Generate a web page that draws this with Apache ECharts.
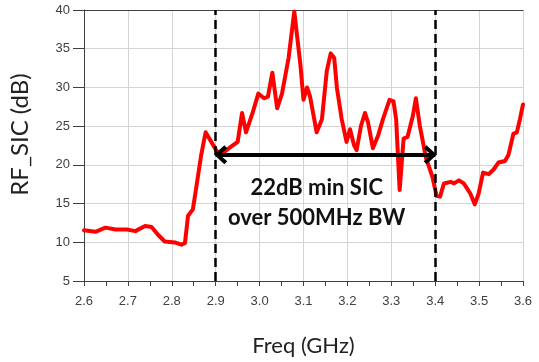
<!DOCTYPE html>
<html>
<head>
<meta charset="utf-8">
<script src="https://cdn.jsdelivr.net/npm/echarts@6/dist/echarts.min.js"></script>
<style>html,body{margin:0;padding:0;background:#fff;}#c{width:539px;height:362px;}</style>
</head>
<body>
<div id="c"></div>
<script>
const freqGHz = [2.600, 2.626, 2.649, 2.672, 2.698, 2.717, 2.739, 2.754, 2.769, 2.784, 2.807, 2.822, 2.830, 2.837, 2.848, 2.856, 2.867, 2.877, 2.890, 2.903,
  2.920, 2.935, 2.950, 2.960, 2.969, 2.984, 2.997, 3.010, 3.019, 3.029, 3.040, 3.051, 3.066, 3.079, 3.093, 3.100, 3.108, 3.115, 3.130,
  3.142, 3.153, 3.162, 3.170, 3.176, 3.187, 3.198, 3.206, 3.215, 3.221, 3.231, 3.240, 3.247, 3.258, 3.270, 3.281, 3.296, 3.305, 3.311,
  3.319, 3.328, 3.337, 3.349, 3.356, 3.365, 3.379, 3.394, 3.403, 3.411, 3.420, 3.435, 3.443, 3.454, 3.465, 3.480, 3.490, 3.499, 3.509,
  3.522, 3.533, 3.544, 3.559, 3.567, 3.578, 3.586, 3.593, 3.600];
const rfSic = [11.56, 11.35, 11.89, 11.64, 11.64, 11.44, 12.1, 11.97, 10.94, 10.1, 9.98, 9.69, 9.9, 13.43, 14.25, 17.17, 21.3, 24.2, 22.97, 21.7,
  21.7, 22.35, 22.97, 26.7, 24.2, 26.7, 29.2, 28.6, 28.8, 31.9, 27.3, 29.2, 33.8, 39.8, 32.9, 28.4, 30.0, 28.8, 24.2,
  25.9, 32.1, 34.4, 33.8, 30.0, 25.9, 22.97, 24.6, 22.56, 21.9, 25.05, 26.7, 25.5, 22.15, 23.8, 25.9, 28.4, 28.2, 25.9,
  16.75, 23.4, 23.6, 26.3, 28.6, 25.05, 20.9, 18.4, 16.0, 15.9, 17.6, 17.8, 17.6, 18.0, 17.6, 16.3, 14.9, 16.3, 19.0,
  18.8, 19.4, 20.3, 20.5, 21.3, 24.0, 24.2, 25.9, 27.8];
const bandEdges = [2.9, 3.4];
const arrowLevel = 21.3;
const noteText = ['22dB min SIC', 'over 500MHz BW'];
const notePos = [3.13, 15.1];

const chevron = 'path://M50,0 L100,78 L84,100 L50,42 L16,100 L0,78 Z';
const dashStyle = { color: '#000', width: 2.5, type: [9, 5] };

const chart = echarts.init(document.getElementById('c'));
chart.setOption({
  animation: false,
  backgroundColor: '#fff',
  grid: { left: 80, right: 16, top: 10, bottom: 71, containLabel: false },
  xAxis: [{
    type: 'value', min: 2.6, max: 3.6, interval: 0.1,
    name: 'Freq (GHz)', nameLocation: 'middle', nameGap: 54,
    nameTextStyle: { fontFamily: 'Lato', fontSize: 22, color: '#222' },
    axisLine: { show: true, lineStyle: { color: '#404040', width: 1 } },
    axisTick: { show: true, inside: false, length: 5, lineStyle: { color: '#404040' } },
    minorTick: { show: true, splitNumber: 2, length: 5, lineStyle: { color: '#404040' } },
    axisLabel: { margin: 14, fontFamily: 'Liberation Sans', fontSize: 13, color: '#404040', formatter: v => v.toFixed(1) },
    splitLine: { show: true, lineStyle: { color: '#d4d4d4', width: 1 } }
  }, {
    type: 'value', position: 'top', min: 2.6, max: 3.6,
    axisLine: { show: true, lineStyle: { color: '#404040', width: 1 } },
    axisTick: { show: false }, axisLabel: { show: false }, splitLine: { show: false }
  }],
  yAxis: {
    type: 'value', min: 5, max: 40, interval: 5,
    name: 'RF_SIC (dB)', nameLocation: 'middle', nameGap: 52,
    nameTextStyle: { fontFamily: 'Lato', fontSize: 24, color: '#222', padding: [0, 0, 0, 22] },
    axisLine: { show: true, lineStyle: { color: '#404040', width: 1 } },
    axisTick: { show: true, inside: false, length: 11, lineStyle: { color: '#404040' } },
    axisLabel: { margin: 14, fontFamily: 'Liberation Sans', fontSize: 13, color: '#404040' },
    splitLine: { show: true, lineStyle: { color: '#d4d4d4', width: 1 } }
  },
  series: [{
    type: 'line',
    data: freqGHz.map((f, i) => [f, rfSic[i]]),
    showSymbol: false, symbol: 'none',
    lineStyle: { color: '#ff0000', width: 4, join: 'round', cap: 'round' },
    markLine: {
      silent: true, animation: false,
      symbol: ['none', 'none'],
      label: { show: false },
      data: [
        { xAxis: bandEdges[0], lineStyle: dashStyle },
        { xAxis: bandEdges[1], lineStyle: dashStyle },
        [
          { coord: [bandEdges[0], arrowLevel], symbol: chevron, symbolSize: [19, 13], symbolOffset: [0, 5] },
          { coord: [bandEdges[1], arrowLevel], symbol: chevron, symbolSize: [19, 13], symbolOffset: [0, 5] }
        ]
      ],
      lineStyle: { color: '#000', width: 4, type: 'solid' },
      itemStyle: { color: '#000' }
    },
    markPoint: {
      silent: true,
      symbol: 'circle', symbolSize: 0,
      data: [{ coord: notePos }],
      label: {
        show: true, position: 'inside',
        formatter: noteText.join('\n'),
        fontFamily: 'Lato', fontWeight: 'bold', fontSize: 22, lineHeight: 30,
        color: '#111', align: 'center'
      }
    }
  }]
});
</script>
</body>
</html>
